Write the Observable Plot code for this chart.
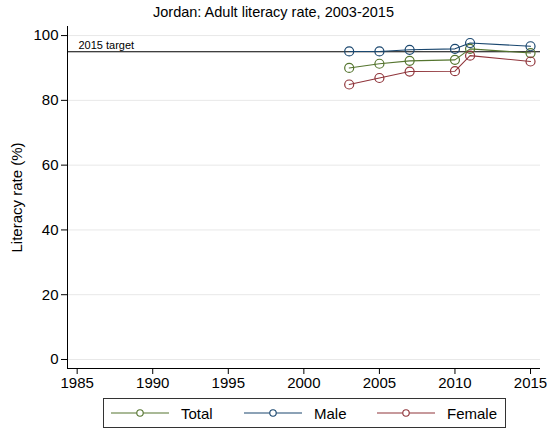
<!DOCTYPE html>
<html>
<head>
<meta charset="utf-8">
<script src="https://cdn.jsdelivr.net/npm/d3@7"></script>
<script src="https://cdn.jsdelivr.net/npm/@observablehq/plot@0.6"></script>
<style>
  body { margin: 0; background: #fff; font-family: "Liberation Sans", Arial, sans-serif; }
  #wrap { position: relative; width: 547px; height: 433px; overflow: hidden; }
  #title { position: absolute; top: 4px; left: 0; width: 547px; text-align: center; font-size: 14.5px; color: #000; }
  #legend { position: absolute; left: 103px; top: 398px; width: 403px; height: 30px; border: 1px solid #333; box-sizing: border-box; }
</style>
</head>
<body>
<div id="wrap">
  <div id="chart"></div>
  <div id="title"></div>
  <div id="legend"></div>
</div>
<script>
const titleText = "Jordan: Adult literacy rate, 2003-2015";
const yLabel = "Literacy rate (%)";
const years = [2003, 2005, 2007, 2010, 2011, 2015];
const total = [90.0, 91.3, 92.2, 92.5, 95.9, 94.6];
const male = [95.1, 95.1, 95.6, 95.9, 97.7, 96.7];
const female = [84.9, 86.9, 88.9, 89.0, 93.8, 92.0];
const seriesNames = ["Total", "Male", "Female"];
const seriesColors = ["#55752f", "#1a476f", "#90353b"];
const xTicks = [1985, 1990, 1995, 2000, 2005, 2010, 2015];
const yTicks = [0, 20, 40, 60, 80, 100];
const target = 95;
const targetLabel = "2015 target";

const seriesValues = [total, male, female];
const data = [];
seriesNames.forEach((s, i) => years.forEach((yr, j) => data.push({series: s, year: yr, value: seriesValues[i][j]})));

const xDomain = [1984.36, 2015.66];
const yDomain = [-2.78, 102.8];

const plot = Plot.plot({
  width: 547,
  height: 395,
  marginLeft: 67,
  marginRight: 7,
  marginTop: 26,
  marginBottom: 27,
  style: {fontFamily: "Liberation Sans, Arial, sans-serif", fontSize: "15px", color: "#000", background: "#fff"},
  x: {domain: xDomain, ticks: xTicks, tickFormat: "d", label: null},
  y: {domain: yDomain, ticks: yTicks, label: null},
  color: {domain: seriesNames, range: seriesColors},
  marks: [
    Plot.gridY(yTicks, {stroke: "#e8e8e8", strokeOpacity: 1, strokeWidth: 1}),
    Plot.axisX({ticks: xTicks, tickFormat: "d", tickSize: 6, tickPadding: 3, fontSize: 15, label: null, stroke: "#000"}),
    Plot.axisY({ticks: yTicks, tickSize: 6, tickPadding: 3, fontSize: 15, label: yLabel, labelAnchor: "center", labelOffset: 56, labelArrow: "none", stroke: "#000"}),
    Plot.ruleY([yDomain[0]], {stroke: "#000", strokeWidth: 1}),
    Plot.ruleX([xDomain[0]], {stroke: "#000", strokeWidth: 1}),
    Plot.ruleY([target], {stroke: "#000", strokeWidth: 1.2}),
    Plot.text([targetLabel], {x: xDomain[0], y: target, text: d => d, dx: 11, dy: -6, textAnchor: "start", fontSize: 11, fill: "#000"}),
    Plot.line(data, {x: "year", y: "value", z: "series", stroke: "series", strokeWidth: 1.1}),
    Plot.dot(data, {x: "year", y: "value", stroke: "series", r: 4.5, strokeWidth: 1.2, fill: "none"})
  ]
});
document.getElementById("chart").appendChild(plot);
document.getElementById("title").textContent = titleText;

// Legend
const leg = d3.select("#legend").append("svg").attr("width", 401).attr("height", 28)
  .style("font-family", "Liberation Sans, Arial, sans-serif").style("font-size", "15px");
const itemX = [7, 140, 273];
seriesNames.forEach((s, i) => {
  const g = leg.append("g").attr("transform", `translate(${itemX[i]},0)`);
  g.append("line").attr("x1", 0).attr("x2", 58).attr("y1", 14).attr("y2", 14).attr("stroke", seriesColors[i]).attr("stroke-width", 1.1);
  g.append("circle").attr("cx", 29).attr("cy", 14).attr("r", 3.2).attr("fill", "#fff").attr("stroke", seriesColors[i]).attr("stroke-width", 1.1);
  g.append("text").attr("x", 70).attr("y", 19.5).text(s).attr("fill", "#000");
});
</script>
</body>
</html>
